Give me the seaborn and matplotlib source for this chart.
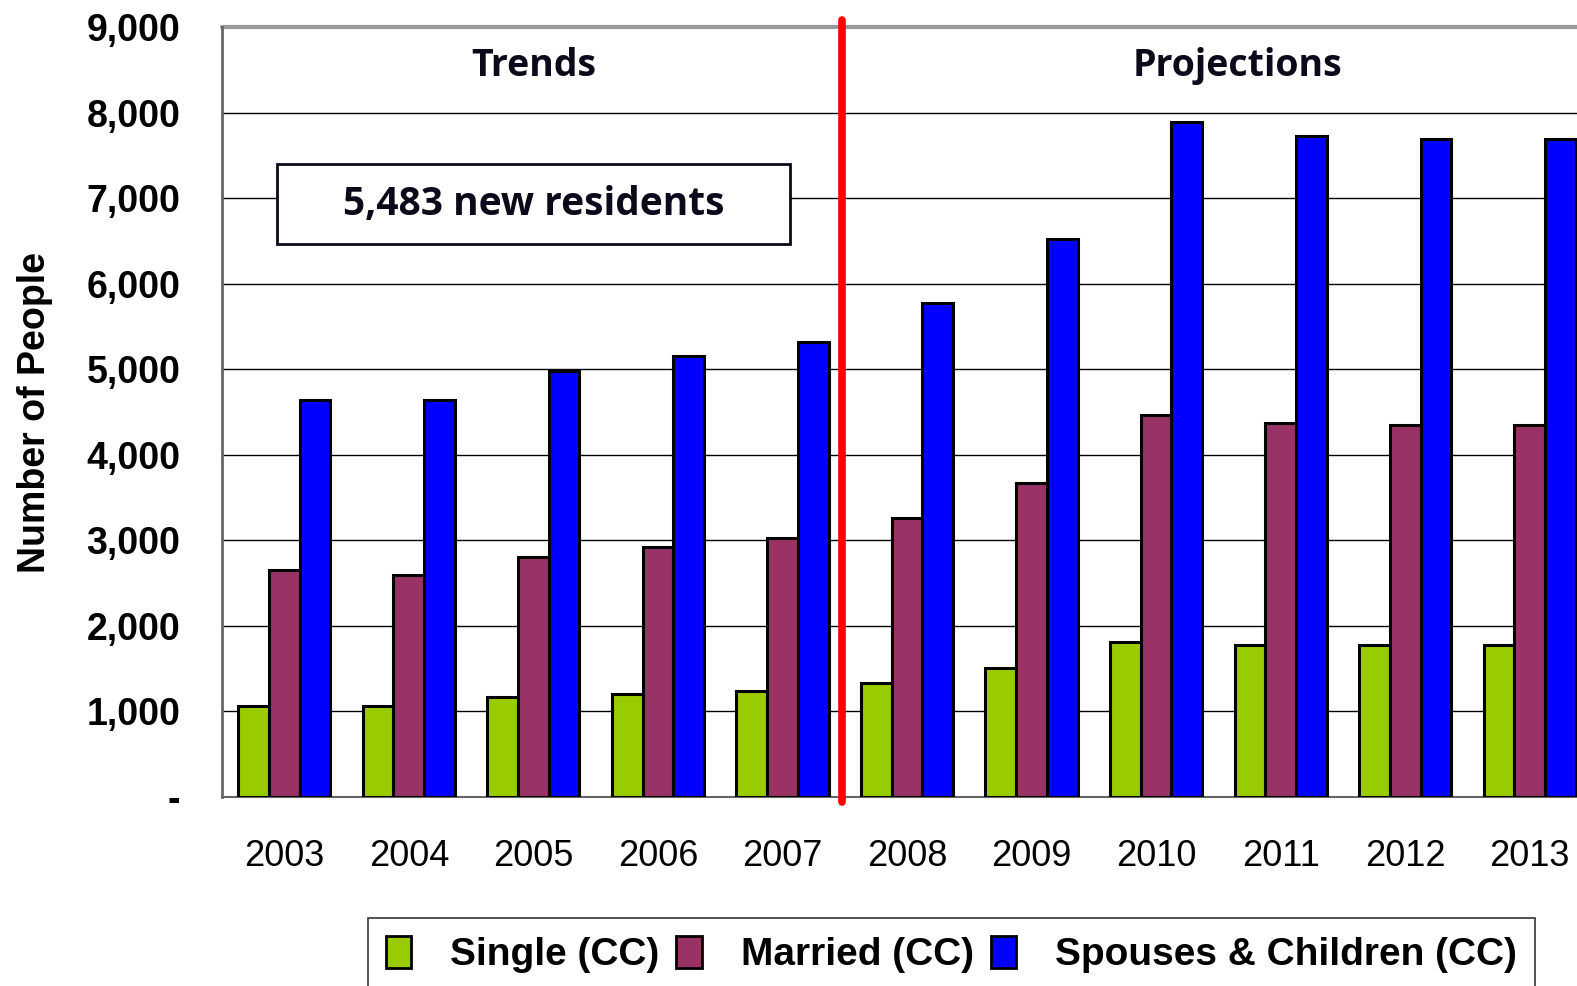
import matplotlib

matplotlib.use("Agg")
import matplotlib.pyplot as plt
import matplotlib.patches as mpatches
import pandas as pd
import seaborn as sns

YEARS = ["2003", "2004", "2005", "2006", "2007", "2008", "2009", "2010", "2011", "2012", "2013"]
SINGLE = [1060, 1060, 1165, 1200, 1240, 1330, 1505, 1810, 1775, 1775, 1775]
MARRIED = [2650, 2600, 2810, 2920, 3025, 3260, 3670, 4460, 4375, 4350, 4350]
SPOUSES = [4635, 4635, 4975, 5150, 5320, 5775, 6520, 7895, 7730, 7695, 7695]
SERIES = ["Single (CC)", "Married (CC)", "Spouses & Children (CC)"]
COLORS = ["#99CC00", "#993366", "#0000FF"]
Y_TICKS = [0, 1000, 2000, 3000, 4000, 5000, 6000, 7000, 8000, 9000]
Y_TICK_LABELS = ["-", "1,000", "2,000", "3,000", "4,000", "5,000", "6,000", "7,000", "8,000", "9,000"]

df = pd.DataFrame({
    "year": YEARS * 3,
    "people": SINGLE + MARRIED + SPOUSES,
    "series": [SERIES[0]] * 11 + [SERIES[1]] * 11 + [SERIES[2]] * 11,
})

sns.set_style("white")
plt.rcParams["font.family"] = ["Liberation Sans", "DejaVu Sans"]
plt.rcParams["text.color"] = "black"
plt.rcParams["xtick.color"] = "black"
plt.rcParams["ytick.color"] = "black"
plt.rcParams["axes.labelcolor"] = "black"

fig = plt.figure(figsize=(15.77, 9.86), dpi=100)
ax = fig.add_axes([0.1408, 0.1917, 0.8687, 0.7809])

sns.barplot(
    data=df, x="year", y="people", hue="series", hue_order=SERIES,
    palette=COLORS, width=0.74, edgecolor="black", linewidth=2.2,
    saturation=1, legend=False, ax=ax, zorder=3,
)

ax.set_xlim(-0.5, 10.5)
ax.set_ylim(0, 9000)
ax.set_yticks(Y_TICKS)
ax.set_yticklabels(Y_TICK_LABELS, fontsize=27, fontweight="bold")
ax.tick_params(axis="y", length=10, width=1.2, color="#555555", pad=20)
ax.tick_params(axis="x", which="major", length=0, labelsize=26, pad=30)
ax.set_xticks([i - 0.5 for i in range(12)], minor=True)
ax.tick_params(axis="x", which="minor", length=12, width=1.2, color="#555555")
ax.grid(axis="y", color="black", linewidth=1, zorder=0)
ax.set_axisbelow(True)
for s in ["top", "right"]:
    ax.spines[s].set_visible(False)
ax.spines["left"].set_color("#666666")
ax.spines["left"].set_linewidth(2)
ax.spines["bottom"].set_color("#666666")
ax.spines["bottom"].set_linewidth(1.5)
ax.axhline(9000, color="#999999", linewidth=3, zorder=1, clip_on=False)

ax.set_xlabel("")
ax.set_ylabel("Number of People", fontsize=27, fontweight="bold", labelpad=24)

# trend / projection divider
ax.plot([4.475, 4.475], [-60, 9080], color="red", linewidth=5.5, clip_on=False,
        solid_capstyle="round", zorder=5)

title_font = dict(fontweight="bold", family=["Open Sans", "DejaVu Sans"], color="#0a0a1a")
ax.text(2.0, 8550, "Trends", ha="center", va="center", fontsize=27, **title_font)
ax.text(7.65, 8550, "Projections", ha="center", va="center", fontsize=27, **title_font)
ax.add_patch(mpatches.Rectangle((-0.06, 6467), 4.12, 928, facecolor="white",
                                edgecolor="#0a0a1a", linewidth=2, zorder=4))
ax.text(2.0, 6930, "5,483 new residents", ha="center", va="center", fontsize=28,
        zorder=6, **title_font)

handles = [mpatches.Patch(facecolor=c, edgecolor="black", linewidth=2) for c in COLORS]
leg = fig.legend(
    handles, SERIES, loc="upper left", bbox_to_anchor=(368 / 1577, 1 - 918 / 986),
    ncol=3, frameon=True, fancybox=False, edgecolor="black",
    prop={"weight": "bold", "size": 28},
    handlelength=0.65, handleheight=0.9, handletextpad=1.0, columnspacing=0.45,
    borderpad=0.45, borderaxespad=0,
)
leg.get_frame().set_linewidth(1.2)

fig.savefig("out.png", dpi=100)
